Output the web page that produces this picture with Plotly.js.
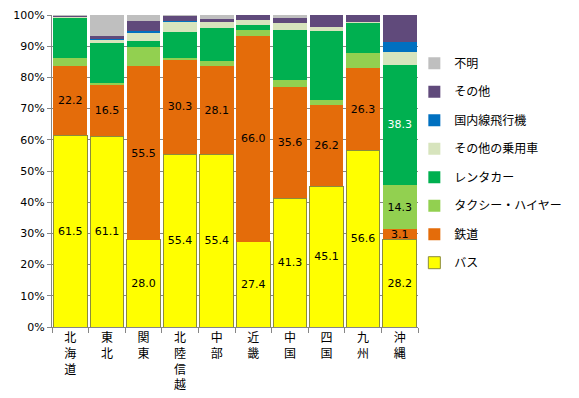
<!DOCTYPE html>
<html>
<head>
<meta charset="utf-8">
<script src="https://cdn.plot.ly/plotly-3.0.1.min.js"></script>
<style>html,body{margin:0;padding:0;background:#fff}#chart{width:579px;height:398px}</style>
</head>
<body>
<div id="chart"></div>
<script>
const regions = ["北海道","東北","関東","北陸信越","中部","近畿","中国","四国","九州","沖縄"];
const seriesNames = ["バス","鉄道","タクシー・ハイヤー","レンタカー","その他の乗用車","国内線飛行機","その他","不明"];
const bus      = [61.5, 61.1, 28.0, 55.4, 55.4, 27.4, 41.3, 45.1, 56.6, 28.2];
const rail     = [22.2, 16.5, 55.5, 30.3, 28.1, 66.0, 35.6, 26.2, 26.3, 3.1];
const taxi     = [2.5, 0.6, 6.1, 0.5, 1.6, 1.9, 2.3, 1.5, 4.8, 14.3];
const rental   = [13.0, 12.7, 2.2, 8.5, 10.6, 1.6, 16.0, 22.1, 9.6, 38.3];
const otherCar = [0.2, 1.2, 2.4, 3.1, 2.2, 1.6, 2.3, 1.3, 0.6, 4.4];
const flight   = [0.0, 0.2, 0.8, 0.4, 0.0, 0.0, 0.0, 0.0, 0.0, 3.0];
const other    = [0.4, 1.1, 3.1, 1.6, 0.7, 1.5, 1.6, 3.8, 2.1, 8.7];
const unknown  = [0.2, 6.6, 1.9, 0.2, 1.4, 0.0, 0.9, 0.0, 0.0, 0.0];
// which segments carry a value label
const showBus    = [1,1,1,1,1,1,1,1,1,1];
const showRail   = [1,1,1,1,1,1,1,1,1,1];
const showTaxi   = [0,0,0,0,0,0,0,0,0,1];
const showRental = [0,0,0,0,0,0,0,0,0,1];

const colors = ["#FFFF00","#E46C0A","#92D050","#00B050","#D7E4BD","#0070C0","#604A7B","#BFBFBF"];
const series = [bus, rail, taxi, rental, otherCar, flight, other, unknown];
const shows  = [showBus, showRail, showTaxi, showRental, null, null, null, null];
const textColors = ["#000","#000","#000","#fff","#000","#000","#000","#000"];

const tickText = regions.map(r => r.split("").join("<br>"));

const traces = series.map((vals, i) => ({
  type: "bar",
  name: seriesNames[i],
  x: regions,
  y: vals,
  legendgroup: "g" + i,
  legendrank: 100 * (series.length - i),
  marker: {
    color: colors[i],
    line: i === 0 ? {color: "#8c8c3c", width: 1} : {width: 0}
  },
  text: shows[i] ? vals.map((v, j) => shows[i][j] ? v.toFixed(1) : "") : vals.map(() => ""),
  textposition: "inside",
  insidetextanchor: "middle",
  textangle: 0,
  constraintext: "none",
  textfont: {family: "DejaVu Sans, Verdana, sans-serif", size: 11, color: textColors[i]},
  hoverinfo: "skip"
}));

const layout = {
  width: 579, height: 398,
  margin: {l: 52, r: 149, t: 15, b: 71},
  barmode: "stack",
  bargap: 0.08,
  paper_bgcolor: "#fff",
  plot_bgcolor: "#fff",
  showlegend: true,
  legend: {
    traceorder: "grouped",
    x: 0.99, xanchor: "left",
    y: 0.525, yanchor: "middle",
    tracegroupgap: 9.5,
    font: {family: "Noto Sans CJK JP, sans-serif", size: 12, color: "#000"},
    bgcolor: "rgba(0,0,0,0)"
  },
  xaxis: {
    type: "category",
    tickmode: "array",
    tickvals: regions,
    ticktext: tickText,
    tickson: "boundaries",
    ticks: "outside",
    ticklen: 5,
    tickcolor: "#868686",
    showline: true,
    linecolor: "#868686",
    linewidth: 1,
    showgrid: false,
    tickfont: {family: "Noto Sans CJK JP, sans-serif", size: 12, color: "#000"},
    fixedrange: true
  },
  yaxis: {
    range: [0, 100],
    dtick: 10,
    ticksuffix: "%",
    ticks: "outside",
    ticklen: 4,
    tickcolor: "#868686",
    showline: true,
    linecolor: "#868686",
    linewidth: 1,
    showgrid: true,
    gridcolor: "#868686",
    gridwidth: 1,
    zeroline: false,
    tickfont: {family: "DejaVu Sans, Verdana, sans-serif", size: 11, color: "#000"},
    fixedrange: true
  }
};

Plotly.newPlot("chart", traces, layout, {displayModeBar: false, staticPlot: true});
</script>
</body>
</html>
